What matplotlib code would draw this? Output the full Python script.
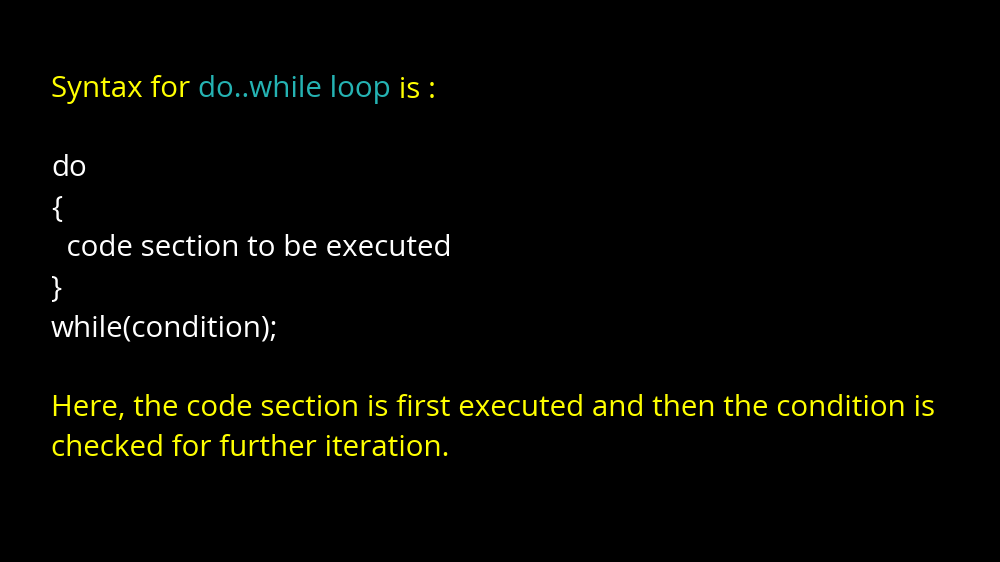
import matplotlib
matplotlib.use("Agg")
import matplotlib.pyplot as plt

# ── TEXT CONTENT ─────────────────────────────────────────
title_parts = ["Syntax for ", "do..while loop", " is :"]
title_colors = ["#ffff00", "#25b3b3", "#ffff00"]
code_lines = ["do", "{", "  code section to be executed", "}", "while(condition);"]
code_y = [169, 209, 249, 289, 329]
note_lines = ["Here, the code section is first executed and then the condition is",
              "checked for further iteration."]
note_y = [409, 449]

W, H = 1000, 562
fig = plt.figure(figsize=(W / 100, H / 100), dpi=100, facecolor="black")
ax = fig.add_axes([0, 0, 1, 1])
ax.set_xlim(0, W)
ax.set_ylim(H, 0)
ax.axis("off")
ax.set_facecolor("black")

font = dict(family="Open Sans", fontsize=21.3)
x0 = 51

# Title with coloured pieces, chained one after another
prev = ax.text(x0, 90, title_parts[0], color=title_colors[0], va="center", ha="left", **font)
for part, col in zip(title_parts[1:], title_colors[1:]):
    prev = ax.annotate(part, xy=(1, 0), xycoords=prev, va="bottom", ha="left",
                       color=col, **font)

for line, y in zip(code_lines, code_y):
    ax.text(x0, y, line, color="white", va="center", ha="left", **font)

for line, y in zip(note_lines, note_y):
    ax.text(x0, y, line, color="#ffff00", va="center", ha="left", **font)

fig.savefig("out.png", dpi=100, facecolor="black")
